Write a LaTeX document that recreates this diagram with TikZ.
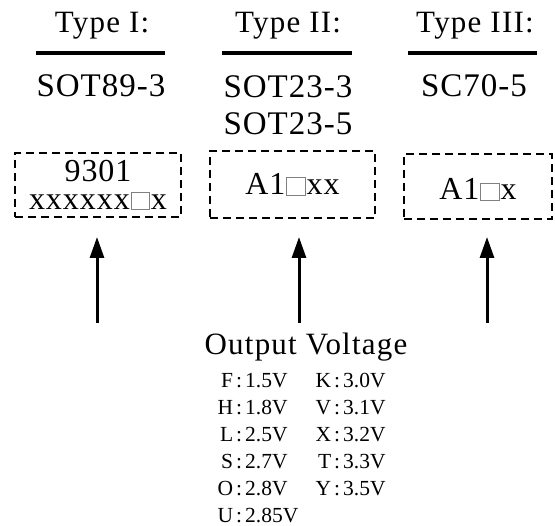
\documentclass[tikz,border=0pt]{standalone}
\usepackage{fontspec}
\setmainfont{Liberation Serif}
\newfontfamily\headfont[LetterSpace=4]{Liberation Serif}
\newfontfamily\markfont[LetterSpace=3]{Liberation Serif}
\usepackage{tikz}
\usetikzlibrary{arrows.meta}

% empty grey square used in the marking codes
\newcommand{\hole}{\hspace{1pt}{\color{gray}\setlength{\fboxrule}{0.8pt}\setlength{\fboxsep}{0pt}\fbox{\vrule width 0pt height 0.52em\hspace{0.55em}}}\hspace{1pt}}
% one voltage entry: letter, colon, value
\newcommand{\vent}[2]{\makebox[17pt][r]{#1}\hspace{3pt}:\hspace{3pt}#2}

\begin{document}
\begin{tikzpicture}[x=1pt, y=-1pt,
    head/.style={anchor=base, inner sep=0pt, font=\headfont\fontsize{31}{36}\selectfont},
    pkg/.style={anchor=base, inner sep=0pt, font=\markfont\fontsize{33}{38}\selectfont},
    bar/.style={line width=4pt},
    markbox/.style={draw, line width=2.4pt, dash pattern=on 8pt off 5pt, inner sep=0pt,
      align=center, font=\markfont\fontsize{32}{28}\selectfont},
    pointer/.style={-{Triangle[length=21pt, width=14pt]}, line width=3pt},
    volt/.style={anchor=base west, inner sep=0pt, font=\fontsize{21.5}{24}\selectfont}]
  \useasboundingbox (0,0) rectangle (555,526);

  % package types
  \node (T1) [head] at (102,33) {Type I:};
  \node (T2) [head] at (288,33) {Type II:};
  \node (T3) [head] at (475,33) {Type III:};
  \draw[bar] (36,53) -- (165,53);
  \draw[bar] (222,53) -- (352,53);
  \draw[bar] (408,53) -- (537,53);
  \node (P1) [pkg] at (101,97) {SOT89-3};
  \node (P2) [pkg] at (288,98) {SOT23-3};
  \node (P2b) [pkg] at (288,135) {SOT23-5};
  \node (P3) [pkg] at (474,97) {SC70-5};

  % marking codes
  \node (B1) [markbox, minimum width=166pt, minimum height=64pt] at (98,185) {9301\\xxxxxx\hole x};
  \node (B2) [markbox, minimum width=165pt, minimum height=67pt] at (292.5,184.5) {A1\hole xx};
  \node (B3) [markbox, minimum width=148pt, minimum height=65pt, text height=27pt, text depth=0pt] at (478,186.5) {A1\hole x};

  % arrows from the voltage list
  \coordinate (A1) at (97,323);
  \coordinate (A2) at (299,323);
  \coordinate (A3) at (487,323);
  \coordinate (E1) at (97,237);
  \coordinate (E2) at (299,237);
  \coordinate (E3) at (487,237);
  \draw[pointer] (A1) -- (E1);
  \draw[pointer] (A2) -- (E2);
  \draw[pointer] (A3) -- (E3);

  \node (OV) [head] at (306,355) {Output Voltage};
  \node (vF) [volt] at (216,388) {\vent{F}{1.5V}};
  \node (vH) [volt] at (216,415) {\vent{H}{1.8V}};
  \node (vL) [volt] at (216,442) {\vent{L}{2.5V}};
  \node (vS) [volt] at (216,469) {\vent{S}{2.7V}};
  \node (vO) [volt] at (216,496) {\vent{O}{2.8V}};
  \node (vU) [volt] at (216,523) {\vent{U}{2.85V}};
  \node (vK) [volt] at (314,388) {\vent{K}{3.0V}};
  \node (vV) [volt] at (314,415) {\vent{V}{3.1V}};
  \node (vX) [volt] at (314,442) {\vent{X}{3.2V}};
  \node (vT) [volt] at (314,469) {\vent{T}{3.3V}};
  \node (vY) [volt] at (314,496) {\vent{Y}{3.5V}};
\end{tikzpicture}
\end{document}
